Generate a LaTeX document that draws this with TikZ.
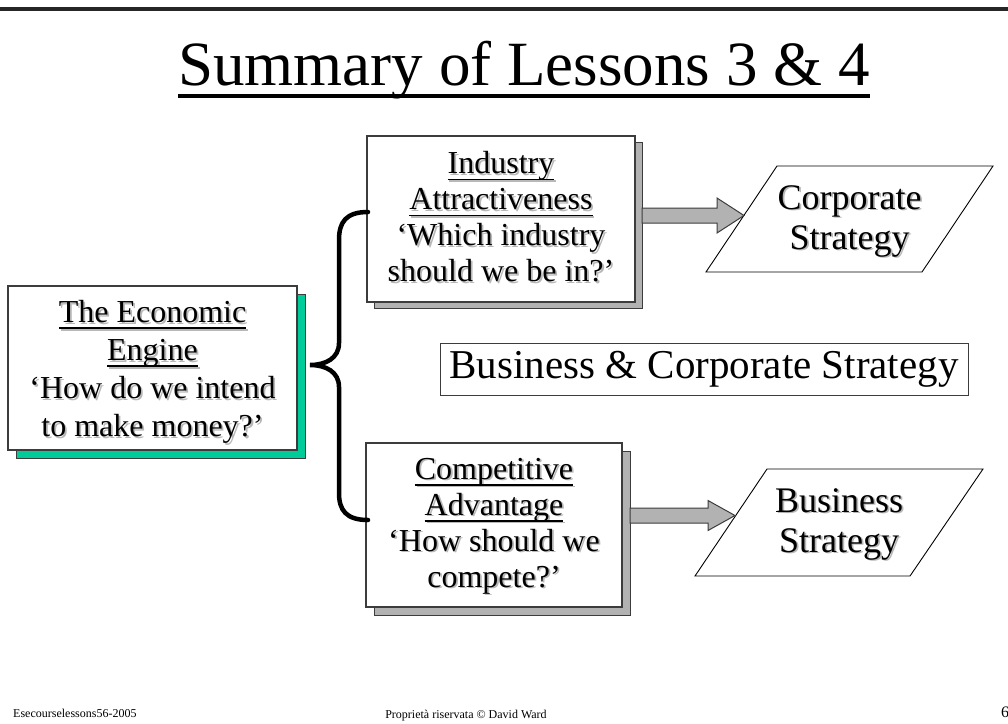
\documentclass[tikz,border=0pt]{standalone}
\usepackage{fontspec}
\setmainfont{Liberation Serif}
\usetikzlibrary{calc}

\definecolor{engteal}{RGB}{0,204,153}
\definecolor{shgray}{RGB}{178,178,178}
\definecolor{edge}{RGB}{60,60,60}

% underline at a fixed depth below the baseline
\newcommand\ulin[1]{\setbox0\hbox{#1}\rlap{\rule[-0.2em]{\wd0}{0.055em}}\box0}
% text with a soft grey drop shadow: name, position, style, content
\newcommand\shadowtext[4]{%
  \node[#3, text=black!28] at ($(#2)+(1.8,1.8)$) {#4};
  \node[#3] (#1) at (#2) {#4};}
% block arrow from a start point to a tip on the same level
\newcommand\blockarrow[3]{%
  \draw[blockarrow] ($(#1)+(0,-7.5)$) -- ($(#2)+(-27,-7.5)$) -- ($(#2)+(-27,-#3)$)
    -- (#2) -- ($(#2)+(-27,#3)$) -- ($(#2)+(-27,7.5)$) -- ($(#1)+(0,7.5)$) -- cycle;}

\tikzset{
  card/.style={draw=edge, line width=1.1pt, fill=white, inner sep=0pt},
  cardshadow/.style={draw=edge, line width=1pt},
  cardtext/.style={inner sep=0pt, align=center, font=\fontsize{32}{36}\selectfont},
  slanttext/.style={inner sep=0pt, align=center, font=\fontsize{36}{40}\selectfont},
  slant/.style={draw=black, line width=0.9pt, fill=white},
  blockarrow/.style={draw=edge, line width=1pt, fill=shgray},
  brace/.style={line width=4.5pt, line cap=round},
}

\begin{document}
\begin{tikzpicture}[x=1pt, y=-1pt]
\useasboundingbox (0,0) rectangle (1008,723);

% top rule
\draw[line width=3.5pt, black!85] (0,9) -- (1008,9);

% title
\node[inner sep=0pt, font=\fontsize{63}{70}\selectfont, anchor=base] (title) at (524,85) {\ulin{Summary of Lessons 3 \& 4}};

% economic engine card
\draw[cardshadow, fill=engteal] (16,294) rectangle (305,458);
\node[card, minimum width=289, minimum height=164] (eco) at (152.5,368) {};
\shadowtext{ecotext}{152.5,372}{cardtext, font=\fontsize{32}{38}\selectfont}{\ulin{The Economic}\\ \ulin{Engine}\\ ‘How do we intend\\ to make money?’}

% industry attractiveness card
\draw[cardshadow, fill=shgray] (374,142) rectangle (642,308);
\node[card, minimum width=268, minimum height=166] (ind) at (501,219) {};
\shadowtext{indtext}{501,217}{cardtext}{\ulin{Industry}\\ \ulin{Attractiveness}\\ ‘Which industry\\ should we be in?’}

% competitive advantage card
\draw[cardshadow, fill=shgray] (374,451) rectangle (630,615);
\node[card, minimum width=256, minimum height=164] (comp) at (494,525) {};
\shadowtext{comptext}{494,526}{cardtext}{\ulin{Competitive}\\ \ulin{Advantage}\\ ‘How should we\\ compete?’}

% brace joining the engine to both cards
\coordinate (braceTop) at (368,212);
\coordinate (braceTip) at (310,365);
\coordinate (braceBot) at (368,520);
\draw[brace] (braceTop) .. controls (346,212) and (339,222) .. (339,240)
  -- (339,343) .. controls (339,358) and (326,365) .. (braceTip)
  .. controls (326,365) and (339,372) .. (339,387)
  -- (339,493) .. controls (339,510) and (346,520) .. (braceBot);

% corporate strategy
\draw[slant] (777,166) -- (993,166) -- (922,272) -- (706,272) -- cycle;
\coordinate (corpIn) at (744,215.5);
\shadowtext{corp}{849.5,221}{slanttext}{Corporate\\ Strategy}

% business strategy
\draw[slant] (767,469) -- (983,469) -- (910,576) -- (695,576) -- cycle;
\coordinate (busIn) at (735,515.5);
\shadowtext{bus}{839,524}{slanttext}{Business\\ Strategy}

% block arrows from the cards to the strategies
\coordinate (indOut) at (642,215.5);
\coordinate (compOut) at (630,515.5);
\blockarrow{indOut}{corpIn}{17.5}
\blockarrow{compOut}{busIn}{15}

% central caption
\node[draw=edge, line width=1pt, inner sep=0pt, minimum width=528, minimum height=52,
  font=\fontsize{41}{46}\selectfont] (caption) at (704,369) {Business \& Corporate Strategy};

% footer
\node[inner sep=0pt, anchor=base west, font=\fontsize{12}{14}\selectfont] (foot1) at (13,717) {Esecourselessons56-2005};
\node[inner sep=0pt, anchor=base, font=\fontsize{12}{14}\selectfont] (foot2) at (466,718) {Proprietà riservata © David Ward};
\node[inner sep=0pt, anchor=base west, font=\fontsize{16}{18}\selectfont] (page) at (1001,717) {6};
\end{tikzpicture}
\end{document}
